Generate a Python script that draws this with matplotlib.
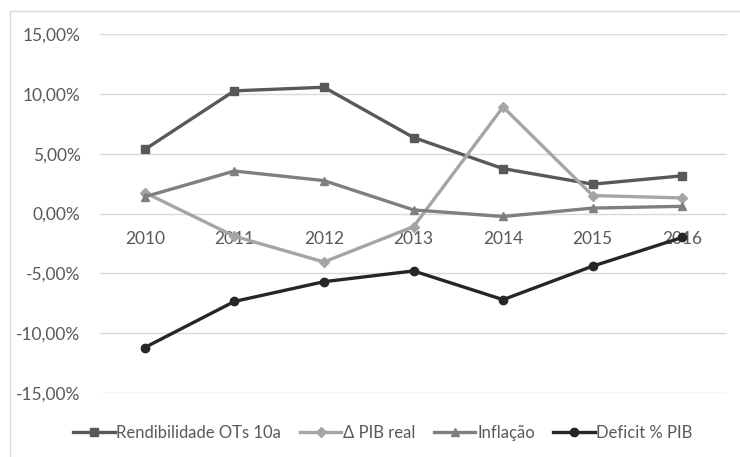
import numpy as np
import matplotlib.pyplot as plt
from matplotlib.patches import Rectangle
from matplotlib.ticker import FuncFormatter

plt.rcParams['font.family'] = ['Lato', 'DejaVu Sans']

# Data (percent)
years = ['2010', '2011', '2012', '2013', '2014', '2015', '2016']
rendibilidade = [5.35, 10.25, 10.55, 6.35, 3.75, 2.45, 3.15]
pib_real = [1.75, -1.9, -4.05, -1.1, 8.9, 1.5, 1.3]
inflacao = [1.4, 3.55, 2.75, 0.3, -0.25, 0.45, 0.6]
deficit = [-11.2, -7.35, -5.7, -4.8, -7.2, -4.4, -2.0]

series = [
    ('Rendibilidade OTs 10a', rendibilidade, '#595959', 's'),
    ('\u0394 PIB real', pib_real, '#A5A5A5', 'D'),
    ('Inflação', inflacao, '#7F7F7F', '^'),
    ('Deficit % PIB', deficit, '#262626', 'o'),
]

W, H = 740, 457
fig = plt.figure(figsize=(W / 100, H / 100), dpi=100)

# outer chart frame
fig.patches.append(Rectangle((10 / W, -0.1), 2, 1 - 11 / H + 0.1, transform=fig.transFigure,
                             fill=False, edgecolor='#D9D9D9', linewidth=1.0))

ax = fig.add_axes([100 / W, 1 - 393 / H, 627 / W, (393 - 34) / H])
x = np.arange(len(years))

for name, vals, col, mk in series:
    ms = 6 if mk != 'D' else 5
    ax.plot(x, vals, color=col, linewidth=2.4, marker=mk, markersize=ms,
            markerfacecolor=col, markeredgecolor=col, label=name, zorder=3)

ax.set_xlim(-0.5, len(years) - 0.5)
ax.set_ylim(-15, 15)
ax.set_yticks(np.arange(-15, 16, 5))
ax.yaxis.set_major_formatter(FuncFormatter(lambda v, p: f'{v:.2f}%'.replace('.', ',')))
ax.tick_params(axis='y', length=0, pad=14, labelsize=12.5, labelcolor='#595959')
ax.grid(axis='y', color='#D9D9D9', linewidth=1.0, zorder=0)
ax.set_axisbelow(True)
for s in ax.spines.values():
    s.set_visible(False)

# category labels sit just below the zero line
ax.set_xticks([])
for i, yr in enumerate(years):
    ax.text(i, -2.1, yr, ha='center', va='center',
            fontsize=12.5, color='#595959', zorder=2)

ax.legend(loc='center', bbox_to_anchor=(383 / W, 1 - 433 / H), bbox_transform=fig.transFigure,
          ncol=4, frameon=False, fontsize=12, handlelength=2.5, handletextpad=0.1,
          columnspacing=1.1, labelcolor='#595959')

plt.savefig('out.png', dpi=100)
plt.close()
